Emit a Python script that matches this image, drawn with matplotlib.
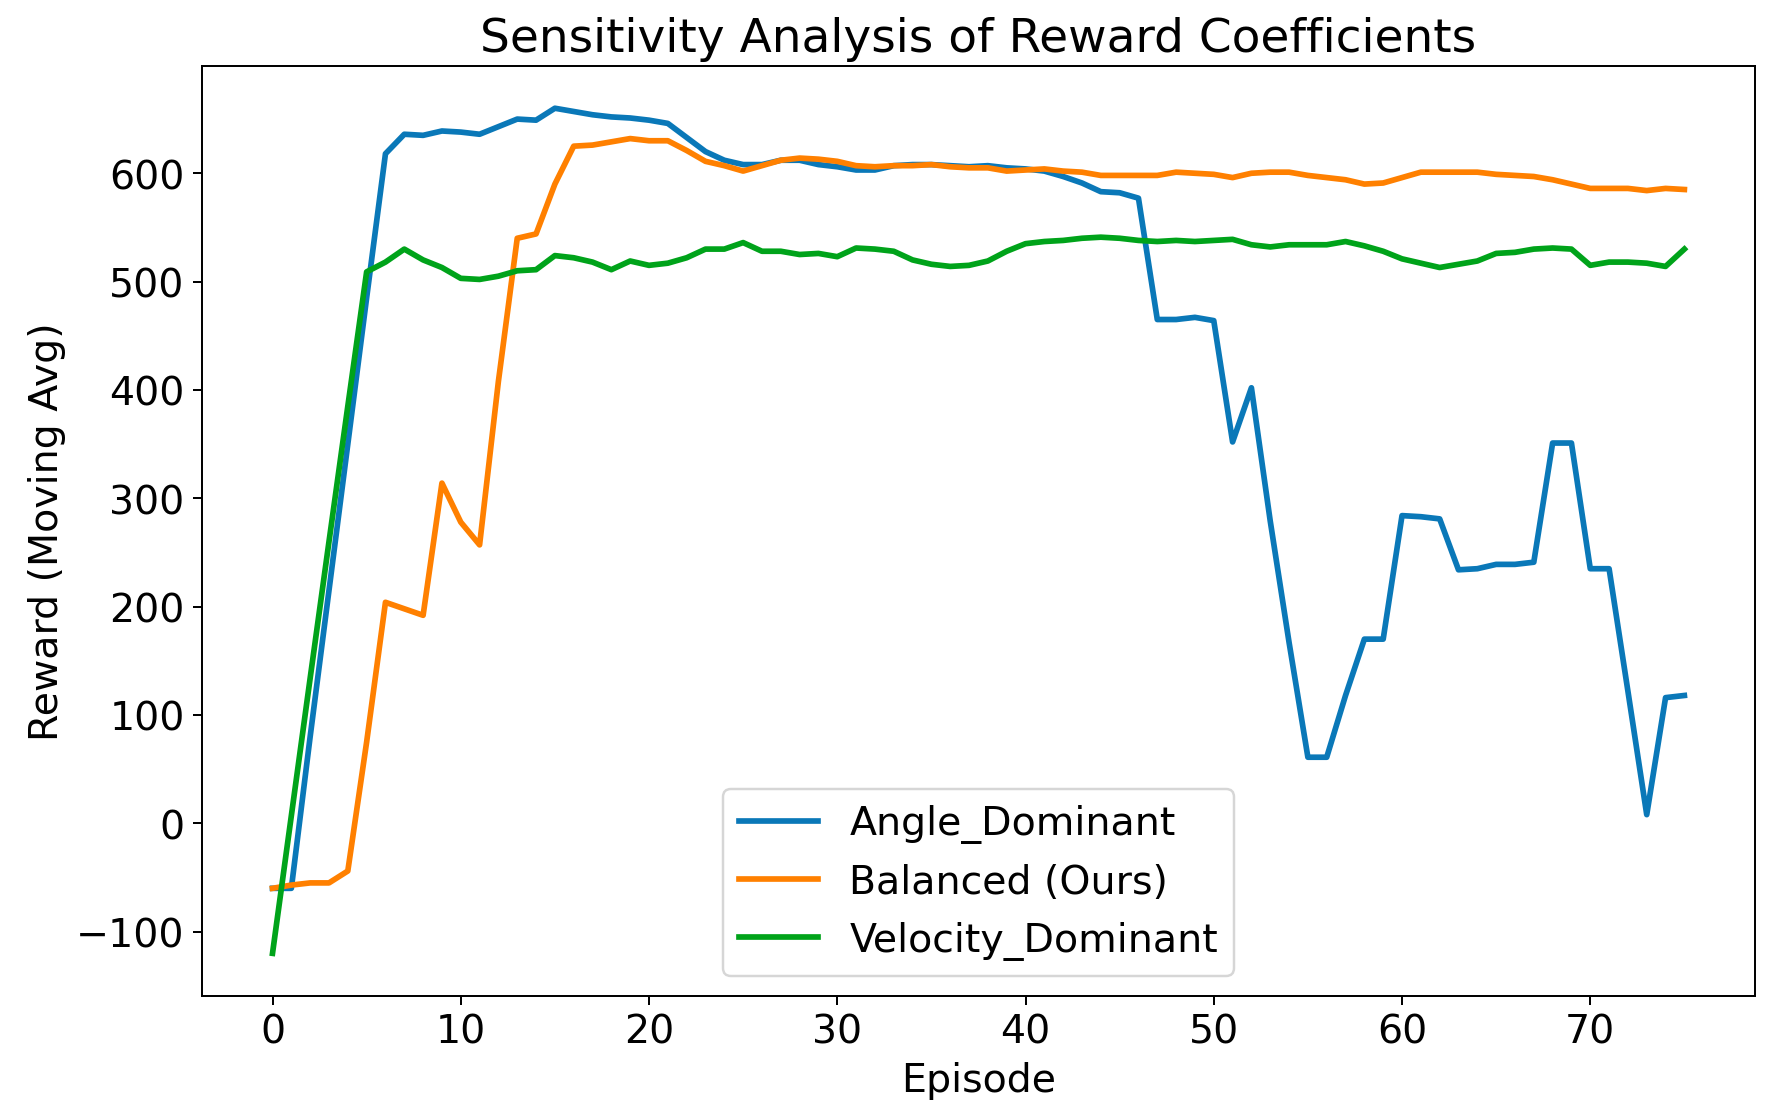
import matplotlib
matplotlib.use('Agg')
import matplotlib.pyplot as plt

episodes = list(range(76))

# moving-average reward per episode
angle_dominant = [
    -60, -60, 80, 215, 350, 485, 618, 636, 635, 639,
    638, 636, 643, 650, 649, 660, 657, 654, 652, 651,
    649, 646, 633, 620, 612, 608, 608, 612, 612, 608,
    606, 603, 603, 607, 608, 608, 607, 606, 607, 605,
    604, 602, 597, 591, 583, 582, 577, 465, 465, 467,
    464, 352, 402, 279, 167, 61, 61, 118, 170, 170,
    284, 283, 281, 234, 235, 239, 239, 241, 351, 351,
    235, 235, 122, 8, 116, 118,
]
balanced = [
    -60, -57, -55, -55, -44, 75, 204, 198, 192, 314,
    278, 257, 408, 540, 544, 590, 625, 626, 629, 632,
    630, 630, 621, 611, 607, 602, 607, 612, 614, 613,
    611, 607, 606, 607, 607, 608, 606, 605, 605, 602,
    603, 604, 602, 601, 598, 598, 598, 598, 601, 600,
    599, 596, 600, 601, 601, 598, 596, 594, 590, 591,
    596, 601, 601, 601, 601, 599, 598, 597, 594, 590,
    586, 586, 586, 584, 586, 585,
]
velocity_dominant = [
    -120, 7, 134, 260, 385, 509, 518, 530, 520, 513,
    503, 502, 505, 510, 511, 524, 522, 518, 511, 519,
    515, 517, 522, 530, 530, 536, 528, 528, 525, 526,
    523, 531, 530, 528, 520, 516, 514, 515, 519, 528,
    535, 537, 538, 540, 541, 540, 538, 537, 538, 537,
    538, 539, 534, 532, 534, 534, 534, 537, 533, 528,
    521, 517, 513, 516, 519, 526, 527, 530, 531, 530,
    515, 518, 518, 517, 514, 530,
]

fig, ax = plt.subplots(figsize=(10, 6.273), dpi=177.9)
fig.subplots_adjust(left=0.1135, right=0.9865, top=0.94, bottom=0.107)

ax.plot(episodes, angle_dominant, color='#0a78b8', lw=2.3, label='Angle_Dominant')
ax.plot(episodes, balanced, color='#ff8000', lw=2.3, label='Balanced (Ours)')
ax.plot(episodes, velocity_dominant, color='#00a31a', lw=2.3, label='Velocity_Dominant')

ax.set_title('Sensitivity Analysis of Reward Coefficients', fontsize=19)
ax.set_xlabel('Episode', fontsize=16)
ax.set_ylabel('Reward (Moving Avg)', fontsize=16)
ax.tick_params(labelsize=16)
ax.legend(loc='lower center', fontsize=16)

fig.savefig('out.png')
